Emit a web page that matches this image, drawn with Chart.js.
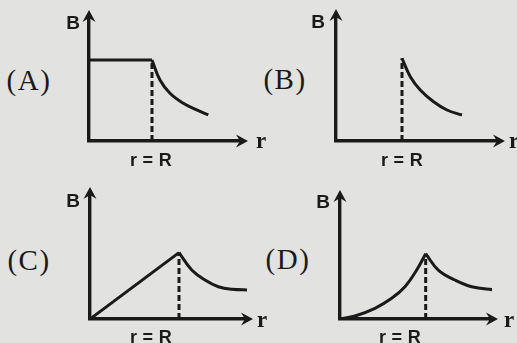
<!DOCTYPE html>
<html>
<head>
<meta charset="utf-8">
<script src="https://cdn.jsdelivr.net/npm/chart.js@4.4.1/dist/chart.umd.min.js"></script>
<style>
  html, body { margin: 0; padding: 0; }
  body {
    width: 517px; height: 343px; position: relative; overflow: hidden;
    background: #e2e2e0; color: #1a1a1a;
    font-family: "Liberation Sans", Arial, sans-serif;
  }
  canvas { position: absolute; }
  .lbl { position: absolute; transform: translate(-50%, -50%); white-space: nowrap; line-height: 1; }
  .tag { font-family: "Liberation Serif", serif; font-size: 29px; letter-spacing: 1.5px; }
  .ax { font-weight: bold; font-size: 19px; }
  .rr { font-size: 18px; font-weight: bold; letter-spacing: 0.3px; }
  .r { font-family: "Liberation Serif", serif; font-size: 23px; font-weight: bold; }
</style>
</head>
<body>
<canvas id="chartA" width="173" height="145" style="left:79px;top:6px"></canvas>
<canvas id="chartB" width="183" height="146" style="left:326px;top:5px"></canvas>
<canvas id="chartC" width="177" height="146" style="left:80px;top:183px"></canvas>
<canvas id="chartD" width="172" height="143" style="left:330px;top:186px"></canvas>

<div class="lbl tag" style="left:29px;top:80px">(A)</div>
<div class="lbl tag" style="left:285px;top:79px">(B)</div>
<div class="lbl tag" style="left:29px;top:260px">(C)</div>
<div class="lbl tag" style="left:288px;top:259px">(D)</div>

<div class="lbl ax" style="left:73px;top:22px">B</div>
<div class="lbl ax" style="left:318px;top:21px">B</div>
<div class="lbl ax" style="left:73px;top:200px">B</div>
<div class="lbl ax" style="left:323px;top:201px">B</div>

<div class="lbl rr" style="left:151px;top:160px">r = R</div>
<div class="lbl rr" style="left:402px;top:160px">r = R</div>
<div class="lbl rr" style="left:151px;top:337px">r = R</div>
<div class="lbl rr" style="left:400px;top:337px">r = R</div>

<div class="lbl r" style="left:261px;top:140px">r</div>
<div class="lbl r" style="left:514px;top:140px">r</div>
<div class="lbl r" style="left:262px;top:319px">r</div>
<div class="lbl r" style="left:509px;top:319px">r</div>

<script>
// r measured in units of R, B in units of its value at r = R

// (A) constant inside, falling outside
const aFlatR = [0, 1];
const aFlatB = [1, 1];
const aTailR = [1, 1.127, 1.286, 1.497, 1.710, 1.894];
const aTailB = [1, 0.753, 0.589, 0.465, 0.383, 0.321];

// (B) zero inside, jump at R then falling
const bTailR = [1, 1.126, 1.277, 1.479, 1.682, 1.909];
const bTailB = [1, 0.778, 0.617, 0.475, 0.375, 0.314];

// (C) linear rise inside, falling outside
const cRiseR = [0, 1];
const cRiseB = [0, 1];
const cTailR = [1, 1.143, 1.292, 1.442, 1.592, 1.798];
const cTailB = [1, 0.738, 0.587, 0.486, 0.447, 0.437];

// (D) curved rise inside, falling outside
const dRiseR = [0, 0.175, 0.408, 0.603, 0.758, 0.895, 1];
const dRiseB = [0, 0.046, 0.164, 0.317, 0.495, 0.750, 1];
const dTailR = [1, 1.147, 1.342, 1.537, 1.809];
const dTailB = [1, 0.750, 0.597, 0.495, 0.444];

// r = R marker
const markR = [1, 1];
const markB = [0, 1];

const INK = '#1a1a1a';

function series(rs, bs, extra) {
  return Object.assign({
    data: rs.map((r, i) => ({ x: r, y: bs[i] })),
    borderColor: INK,
    borderWidth: 3,
    fill: false,
    pointRadius: 0
  }, extra || {});
}

const curve = { tension: 0.4 };
const dashed = { borderDash: [6, 3], borderWidth: 3 };

// Arrowheads at the end of both axes
const arrowHeads = {
  id: 'arrowHeads',
  afterDraw(chart) {
    const { ctx, chartArea: a } = chart;
    ctx.save();
    ctx.fillStyle = INK;
    const tx = a.right + 6, y0 = a.bottom;
    ctx.beginPath();
    ctx.moveTo(tx, y0);
    ctx.lineTo(tx - 12, y0 - 6.5);
    ctx.lineTo(tx - 8, y0);
    ctx.lineTo(tx - 12, y0 + 6.5);
    ctx.closePath();
    ctx.fill();
    const ty = a.top - 6, x0 = a.left;
    ctx.beginPath();
    ctx.moveTo(x0, ty);
    ctx.lineTo(x0 - 6.5, ty + 12);
    ctx.lineTo(x0, ty + 8);
    ctx.lineTo(x0 + 6.5, ty + 12);
    ctx.closePath();
    ctx.fill();
    ctx.restore();
  }
};

function axis(max) {
  return {
    type: 'linear',
    min: 0,
    max: max,
    grid: { display: false, drawTicks: false },
    ticks: { display: false },
    border: { display: true, color: INK, width: 3.4 }
  };
}

function makePanel(id, xMax, yMax, datasets) {
  return new Chart(document.getElementById(id), {
    type: 'line',
    data: { datasets: datasets },
    options: {
      responsive: false,
      animation: false,
      events: [],
      layout: { padding: 10 },
      plugins: { legend: { display: false }, tooltip: { enabled: false } },
      scales: { x: axis(xMax), y: axis(yMax) }
    },
    plugins: [arrowHeads]
  });
}

makePanel('chartA', 2.429, 1.543, [
  series(aFlatR, aFlatB),
  series(aTailR, aTailB, curve),
  series(markR, markB, dashed)
]);

makePanel('chartB', 2.47, 1.524, [
  series(bTailR, bTailB, curve),
  series(markR, markB, dashed)
]);

makePanel('chartC', 1.764, 1.898, [
  series(cRiseR, cRiseB),
  series(cTailR, cTailB, curve),
  series(markR, markB, dashed)
]);

makePanel('chartD', 1.774, 1.884, [
  series(dRiseR, dRiseB, curve),
  series(dTailR, dTailB, curve),
  series(markR, markB, dashed)
]);
</script>
</body>
</html>
